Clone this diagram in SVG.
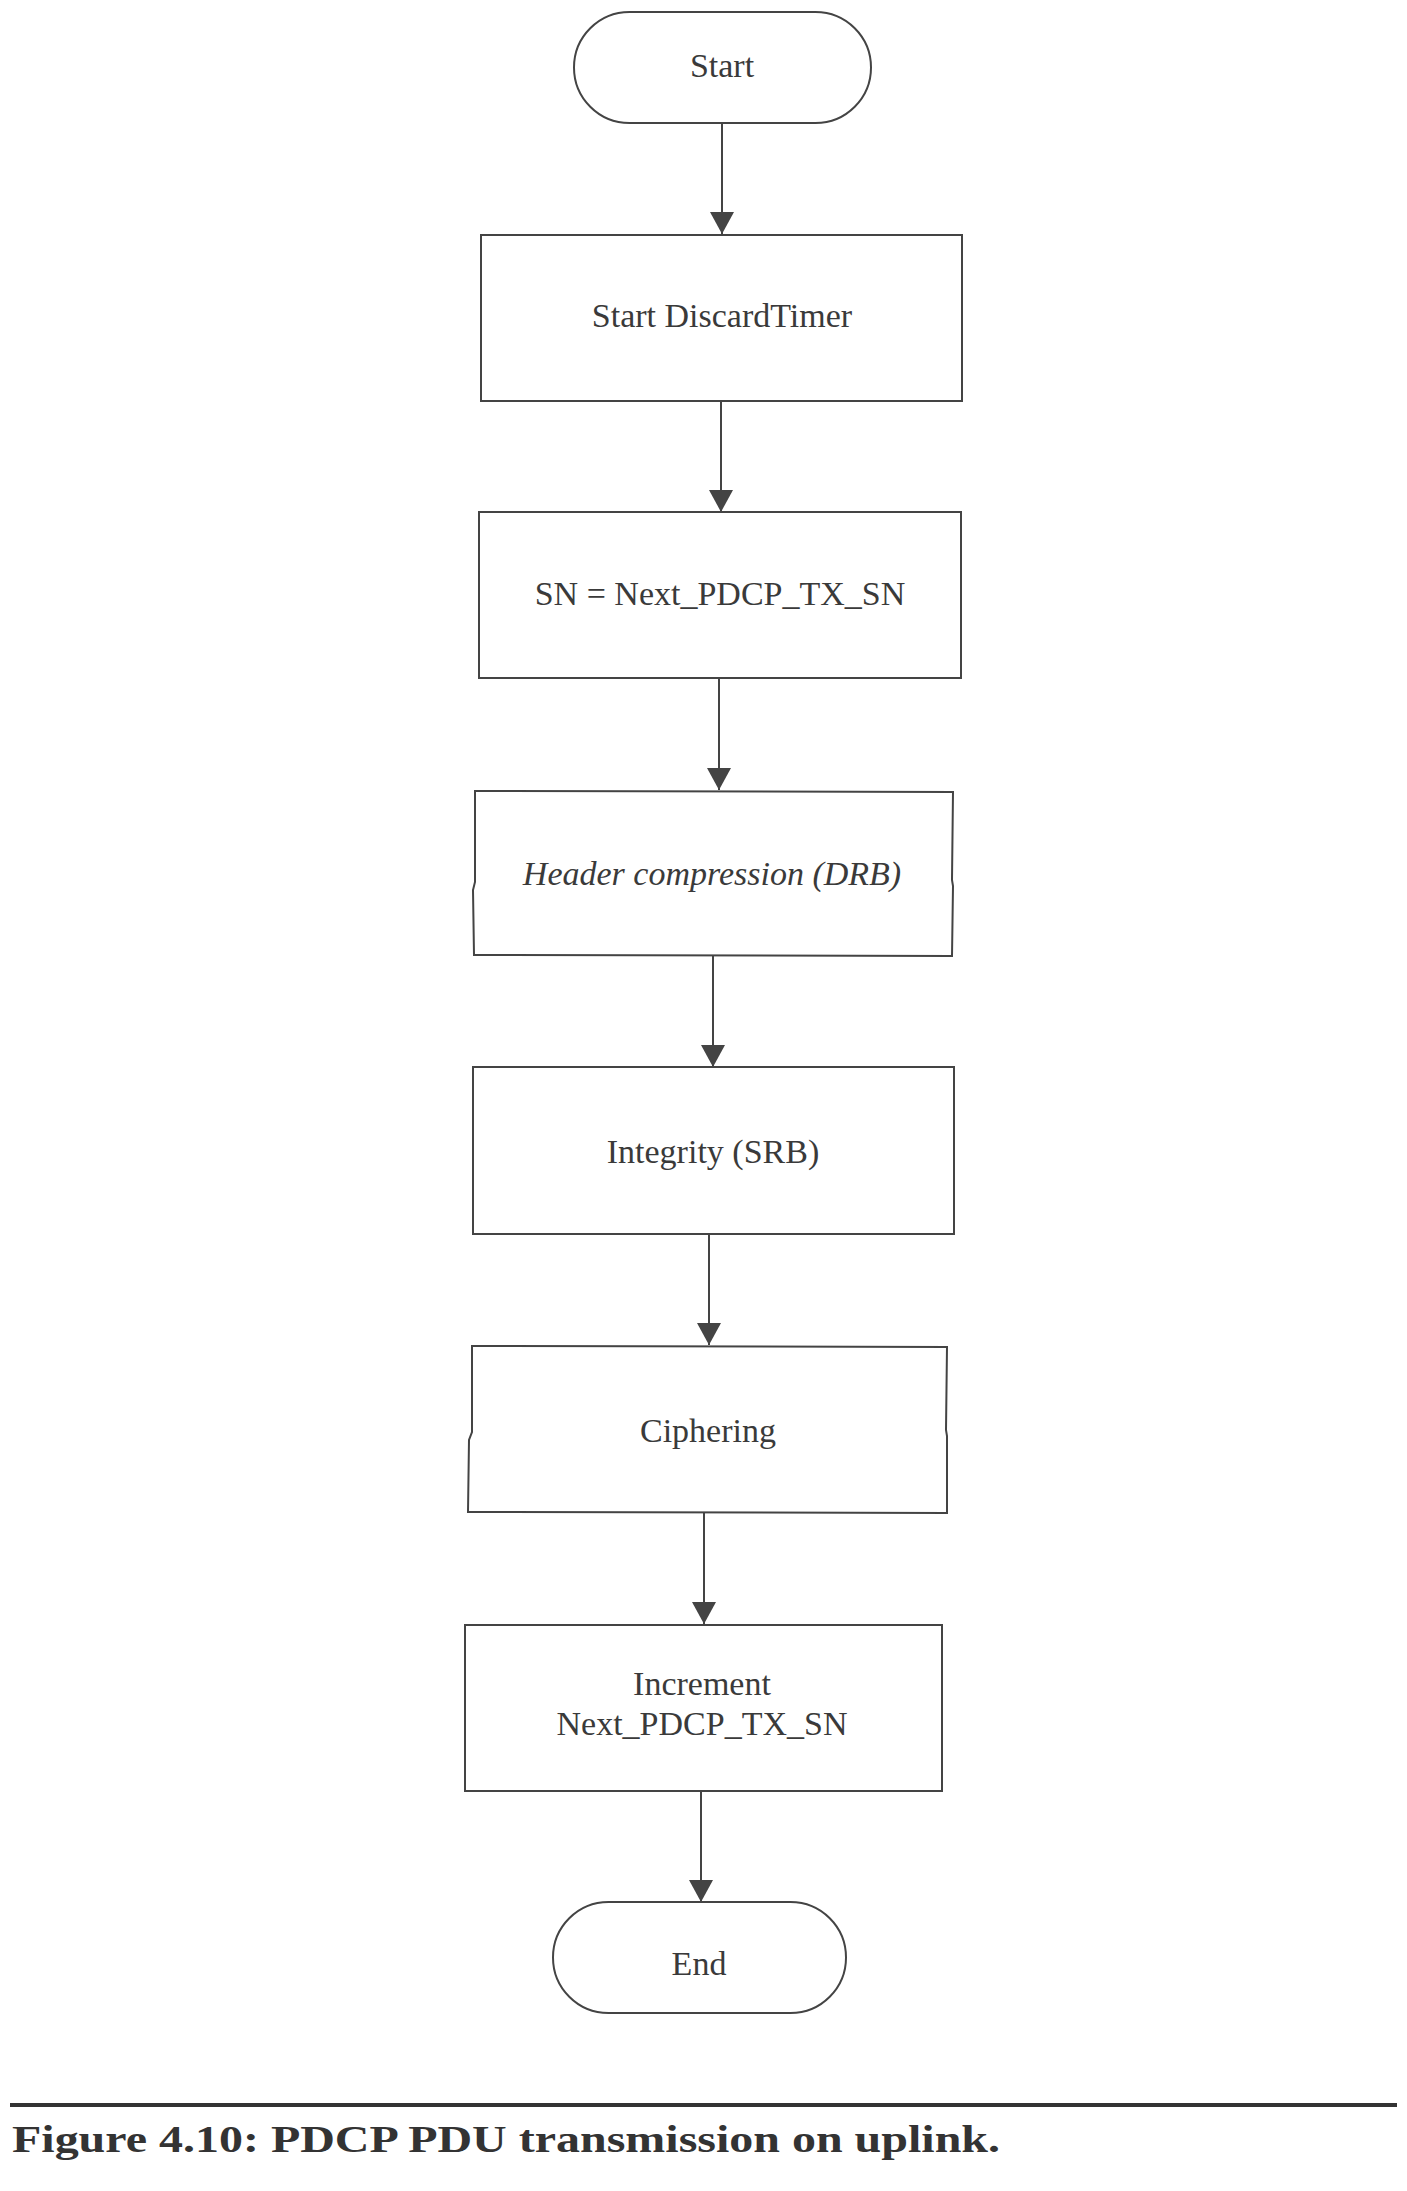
<svg xmlns="http://www.w3.org/2000/svg" width="1407" height="2191" viewBox="0 0 1407 2191">
<style>
.shape{fill:#fff;stroke:#444;stroke-width:2}
.lbl{font-family:"Liberation Serif",serif;font-size:34px;fill:#3a3a3a;text-anchor:middle}
.it{font-style:italic}
.conn{stroke:#444;stroke-width:2;fill:none}
.cap{font-family:"Liberation Serif",serif;font-size:38px;font-weight:bold;fill:#333}
</style>
<defs>
<marker id="ah" markerUnits="userSpaceOnUse" markerWidth="22" markerHeight="24" viewBox="0 0 22 24" refX="22" refY="12" orient="auto">
<path d="M0,0 L22,12 L0,24 z" fill="#444"/>
</marker>
</defs>
<rect width="1407" height="2191" fill="#fff"/>
<g id="connectors">
<line class="conn" x1="722" y1="123" x2="722" y2="234" marker-end="url(#ah)"/>
<line class="conn" x1="721" y1="401" x2="721" y2="512" marker-end="url(#ah)"/>
<line class="conn" x1="719" y1="678" x2="719" y2="790" marker-end="url(#ah)"/>
<line class="conn" x1="713" y1="956" x2="713" y2="1067" marker-end="url(#ah)"/>
<line class="conn" x1="709" y1="1234" x2="709" y2="1345" marker-end="url(#ah)"/>
<line class="conn" x1="704" y1="1513" x2="704" y2="1624" marker-end="url(#ah)"/>
<line class="conn" x1="701" y1="1791" x2="701" y2="1902" marker-end="url(#ah)"/>
</g>
<g id="start">
<rect class="shape" x="574" y="12" width="297" height="111" rx="55.5" ry="55.5"/>
<text class="lbl" x="722" y="77">Start</text>
</g>
<g id="discard-timer">
<rect class="shape" x="481" y="235" width="481" height="166"/>
<text class="lbl" x="722" y="327">Start DiscardTimer</text>
</g>
<g id="sn-assign">
<rect class="shape" x="479" y="512" width="482" height="166"/>
<text class="lbl" x="720" y="605">SN = Next_PDCP_TX_SN</text>
</g>
<g id="header-compression">
<path class="shape" d="M475,791 L953,792 L952,880 L953,886 L952,956 L474,955 L473,890 L475,882 Z"/>
<text class="lbl it" x="712" y="885">Header compression (DRB)</text>
</g>
<g id="integrity">
<rect class="shape" x="473" y="1067" width="481" height="167"/>
<text class="lbl" x="713" y="1163">Integrity (SRB)</text>
</g>
<g id="ciphering">
<path class="shape" d="M472,1346 L947,1347 L946,1430 L947,1436 L947,1513 L468,1512 L469,1440 L472,1432 Z"/>
<text class="lbl" x="708" y="1442">Ciphering</text>
</g>
<g id="increment">
<rect class="shape" x="465" y="1625" width="477" height="166"/>
<text class="lbl" x="702" y="1695">Increment</text>
<text class="lbl" x="702" y="1735">Next_PDCP_TX_SN</text>
</g>
<g id="end">
<rect class="shape" x="553" y="1902" width="293" height="111" rx="55.5" ry="55.5"/>
<text class="lbl" x="699" y="1975">End</text>
</g>
<line x1="10" y1="2105" x2="1397" y2="2105" stroke="#333" stroke-width="4"/>
<text class="cap" x="12" y="2152" textLength="988" lengthAdjust="spacingAndGlyphs">Figure 4.10: PDCP PDU transmission on uplink.</text>
</svg>
